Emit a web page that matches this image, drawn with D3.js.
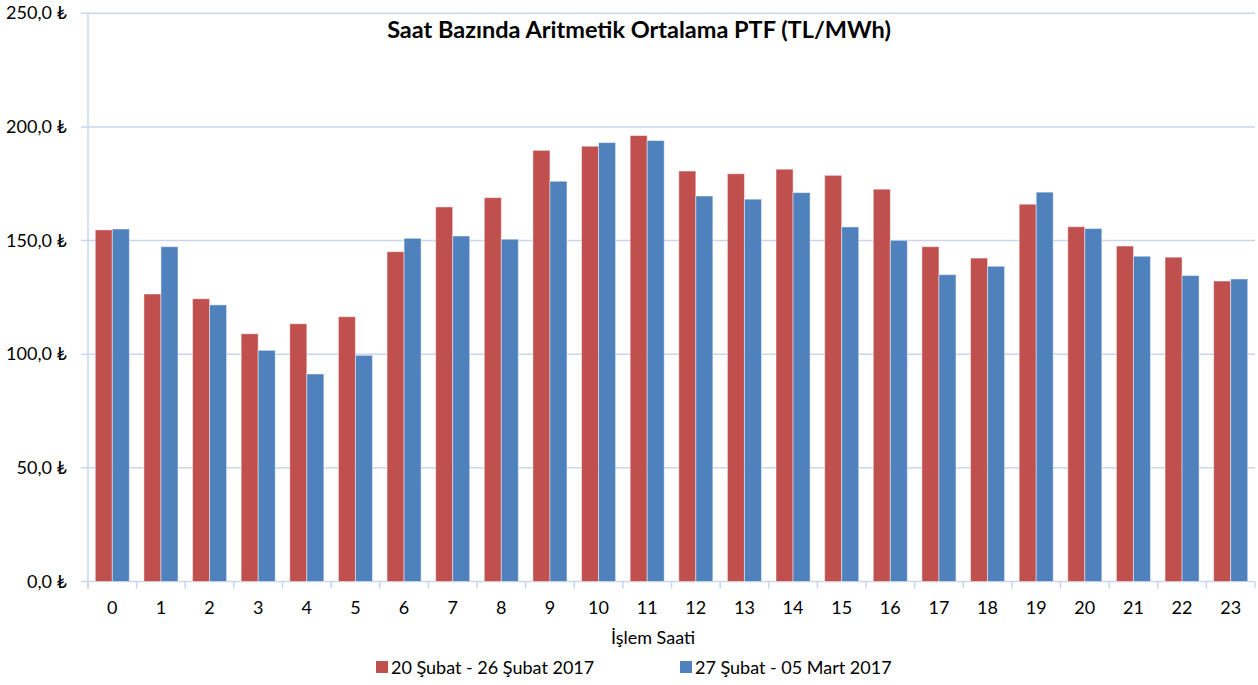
<!DOCTYPE html>
<html><head><meta charset="utf-8">
<script src="https://cdn.jsdelivr.net/npm/d3@7"></script>
<style>body{margin:0;background:#fff}svg{display:block}text{font-family:Lato,"Open Sans",sans-serif;fill:#000}</style>
</head><body><svg id="c" width="1258" height="685"></svg>
<script>
const hours = ["0","1","2","3","4","5","6","7","8","9","10","11","12","13","14","15","16","17","18","19","20","21","22","23"];
const week1 = [154.7,126.5,124.4,109.0,113.4,116.5,145.1,164.8,168.9,189.7,191.5,196.2,180.6,179.4,181.4,178.7,172.6,147.3,142.3,166.0,156.1,147.6,142.7,132.2];
const week2 = [155.1,147.3,121.7,101.7,91.3,99.5,151.0,152.0,150.6,176.1,193.1,194.0,169.6,168.2,171.1,156.0,150.1,135.0,138.7,171.3,155.3,143.1,134.6,133.1];
const seriesNames = ["20 Şubat - 26 Şubat 2017","27 Şubat - 05 Mart 2017"];
const colors = ["#C0504D","#4F81BD"];
const yTicks = [0,50,100,150,200,250];
const title = "Saat Bazında Aritmetik Ortalama PTF (TL/MWh)";
const xTitle = "İşlem Saati";

const svg = d3.select("#c");
const L=88, R=1255, T=13.3, B=581.5;
const x = d3.scaleBand().domain(hours).range([L,R]).paddingInner(0.3).paddingOuter(0.15);
const xb = d3.scaleBand().domain(hours).range([L,R]);
const inner = d3.scaleBand().domain([0,1]).range([0,x.bandwidth()]);
const y = d3.scaleLinear().domain([0,250]).range([B,T]);
const grid="#C9D6EB";

svg.append("g").selectAll("line").data(yTicks).join("line")
 .attr("x1",L-7).attr("x2",R).attr("y1",d=>y(d)).attr("y2",d=>y(d))
 .attr("stroke",grid).attr("stroke-width",1.5);
svg.append("line").attr("x1",L).attr("x2",L).attr("y1",T).attr("y2",B+7).attr("stroke",grid).attr("stroke-width",1.5);
svg.append("g").selectAll("line").data(hours.concat(["end"])).join("line")
 .attr("x1",(d,i)=>L+i*xb.step()).attr("x2",(d,i)=>L+i*xb.step())
 .attr("y1",B).attr("y2",B+7).attr("stroke",grid).attr("stroke-width",1.5);

svg.append("g").selectAll("text").data(yTicks).join("text")
 .attr("x",67).attr("y",d=>y(d)+6).attr("text-anchor","end").attr("font-size",18)
 .text(d=>d3.format(".1f")(d).replace(".",",")+" ₺");

const data = hours.map((h,i)=>({h,v:[week1[i],week2[i]]}));
const g = svg.append("g").selectAll("g").data(data).join("g").attr("transform",d=>`translate(${x(d.h)},0)`);
g.selectAll("rect").data(d=>d.v.map((v,k)=>({v,k}))).join("rect")
 .attr("x",d=>inner(d.k)).attr("width",inner.bandwidth()).attr("y",d=>y(d.v)).attr("height",d=>B-y(d.v))
 .attr("fill",d=>colors[d.k]).attr("stroke","rgba(255,255,255,0.45)").attr("stroke-width",1);

svg.append("g").selectAll("text").data(hours).join("text")
 .attr("x",d=>xb(d)+xb.bandwidth()/2).attr("y",614).attr("text-anchor","middle").attr("font-size",18).text(d=>d);

svg.append("text").attr("x",639).attr("y",38).attr("text-anchor","middle").attr("font-size",23.5).attr("font-weight","bold").text(title);
svg.append("text").attr("x",653).attr("y",644).attr("text-anchor","middle").attr("font-size",18).text(xTitle);

const lx=[376,680];
seriesNames.forEach((n,i)=>{
  svg.append("rect").attr("x",lx[i]).attr("y",661).attr("width",12).attr("height",12).attr("fill",colors[i]);
  svg.append("text").attr("x",lx[i]+15).attr("y",674).attr("font-size",18).text(n);
});
</script></body></html>
